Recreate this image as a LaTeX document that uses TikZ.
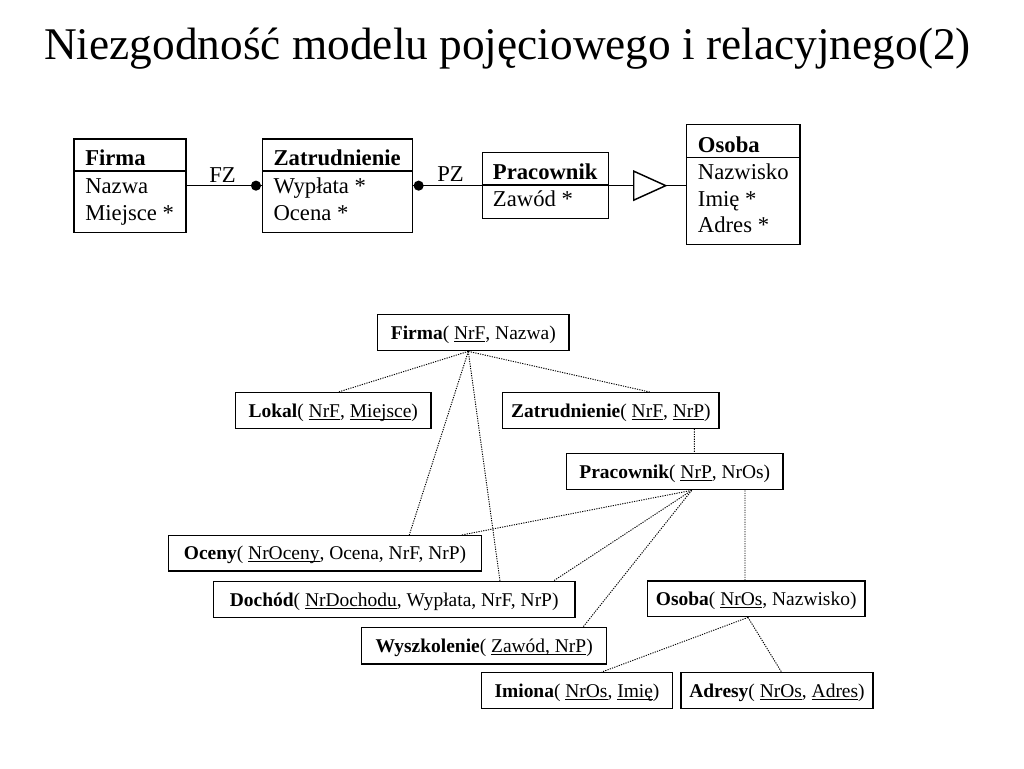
\documentclass[tikz,border=0pt]{standalone}
\usepackage{fontspec}
\setmainfont{Liberation Serif}
\usetikzlibrary{calc}
\newcommand{\undl}[1]{\underline{\smash{#1}}}
\begin{document}
\begin{tikzpicture}[x=0.75pt,y=-0.75pt,
  umlbox/.style={draw, line width=1.1pt, inner sep=0pt},
  umltext/.style={anchor=base west, inner sep=0pt, font=\fontsize{17}{20}\selectfont},
  rel/.style={draw, line width=1pt, inner sep=0pt, text height=12pt, text depth=2.25pt, font=\fontsize{14.6}{17}\selectfont},
  conn/.style={line width=0.7pt, dash pattern=on 0.9pt off 0.9pt},
  solidline/.style={line width=1.1pt},
  dotfill/.style={fill=black}]
\useasboundingbox (0,0) rectangle (1024,768);

\node[anchor=base west, inner sep=0pt, font=\fontsize{34}{40}\selectfont] (title) at (44,59.5)
  {Niezgodność modelu pojęciowego i relacyjnego(2)};

% ---------- conceptual model ----------
\node[umlbox, minimum width=112*0.75pt, minimum height=93.3*0.75pt] (firmaE) at (130,185.65) {};
\node[umlbox, minimum width=149.6*0.75pt, minimum height=93.3*0.75pt] (zatE) at (337.5,185.65) {};
\node[umlbox, minimum width=126.4*0.75pt, minimum height=66*0.75pt] (pracE) at (545.5,185.65) {};
\node[umlbox, minimum width=113.3*0.75pt, minimum height=119.8*0.75pt] (osE) at (743.35,184.6) {};

\draw[solidline] ($(firmaE.north west)+(0,32.7)$) -- ($(firmaE.north east)+(0,32.7)$);
\draw[solidline] ($(zatE.north west)+(0,32.7)$) -- ($(zatE.north east)+(0,32.7)$);
\draw[solidline] ($(pracE.north west)+(0,33)$) -- ($(pracE.north east)+(0,33)$);
\draw[solidline] ($(osE.north west)+(0,33.6)$) -- ($(osE.north east)+(0,33.6)$);

\node[umltext] (t1) at (85,165.7) {\textbf{Firma}};
\node[umltext] (t2) at (85,193) {Nazwa};
\node[umltext] (t3) at (85,220.7) {Miejsce *};

\node[umltext] (t4) at (273.3,165.7) {\textbf{Zatrudnienie}};
\node[umltext] (t5) at (273.3,193) {Wypłata *};
\node[umltext] (t6) at (273.3,220.7) {Ocena *};

\node[umltext] (t7) at (492.7,179) {\textbf{Pracownik}};
\node[umltext] (t8) at (492.7,206) {Zawód *};

\node[umltext] (t9) at (697.7,152.3) {\textbf{Osoba}};
\node[umltext] (t10) at (697.7,179.3) {Nazwisko};
\node[umltext] (t11) at (697.7,206) {Imię *};
\node[umltext] (t12) at (697.7,232.7) {Adres *};

\draw[solidline] (firmaE.east) -- (zatE.west);
\fill[dotfill] ($(zatE.west)+(-6,0)$) circle[radius=3.8pt];
\node[umltext, anchor=base] (fz) at (222.5,182.7) {FZ};

\draw[solidline] (zatE.east) -- (pracE.west);
\fill[dotfill] ($(zatE.east)+(5.6,0)$) circle[radius=3.8pt];
\node[umltext, anchor=base] (pz) at (450.5,181.7) {PZ};

\coordinate (tri) at ($(pracE.east)+(24.3,0)$);
\draw[solidline] (pracE.east) -- (tri);
\draw[solidline, line join=miter] ($(tri)+(0,-14.5)$) -- ($(tri)+(32,0)$) coordinate (tip) -- ($(tri)+(0,14.5)$) -- cycle;
\draw[solidline] (tip) -- (tip -| osE.west);

% ---------- relational model ----------
\node[rel, minimum width=191.5*0.75pt, minimum height=36*0.75pt] (fr) at (473.3,332.7)
  {\textbf{Firma}( \undl{NrF}, Nazwa)};
\node[rel, minimum width=195.3*0.75pt, minimum height=35.6*0.75pt] (lok) at (333.3,410.5)
  {\textbf{Lokal}( \undl{NrF}, \undl{Miejsce})};
\node[rel, minimum width=216.3*0.75pt, minimum height=35.6*0.75pt] (zat) at (610.9,410.5)
  {\textbf{Zatrudnienie}( \undl{NrF}, \undl{NrP})};
\node[rel, minimum width=216.3*0.75pt, minimum height=36.4*0.75pt] (prac) at (674.8,471.5)
  {\textbf{Pracownik}( \undl{NrP}, NrOs)};
\node[rel, minimum width=313.4*0.75pt, minimum height=35.3*0.75pt] (oc) at (325,553.3)
  {\textbf{Oceny}( \undl{NrOceny}, Ocena, NrF, NrP)};
\node[rel, minimum width=361.7*0.75pt, minimum height=36*0.75pt] (doch) at (394.2,599.7)
  {\textbf{Dochód}( \undl{NrDochodu}, Wypłata, NrF, NrP)};
\node[rel, minimum width=245*0.75pt, minimum height=36.7*0.75pt] (wys) at (484.2,645.7)
  {\textbf{Wyszkolenie}( \undl{Zawód, NrP})};
\node[rel, minimum width=217.7*0.75pt, minimum height=35.7*0.75pt] (os) at (756.2,598.9)
  {\textbf{Osoba}( \undl{NrOs}, Nazwisko)};
\node[rel, minimum width=190.6*0.75pt, minimum height=35.6*0.75pt] (im) at (577,690.5)
  {\textbf{Imiona}( \undl{NrOs}, \undl{Imię})};
\node[rel, minimum width=192*0.75pt, minimum height=35.6*0.75pt] (ad) at (777,690.5)
  {\textbf{Adresy}( \undl{NrOs}, \undl{Adres})};

\coordinate (frB) at ($(fr.south)+(-5,0)$);
\draw[conn] (frB) -- ($(lok.north)+(5,0)$);
\draw[conn] (frB) -- ($(zat.north)+(39,0)$);
\draw[conn] (frB) -- ($(oc.north)+(84.3,0)$);
\draw[conn] (frB) -- ($(doch.north)+(105.8,0)$);

\draw[conn] ($(zat.south)+(83.4,0)$) -- ($(prac.north)+(19.5,0)$);

\coordinate (pracB) at ($(prac.south)+(16.9,0)$);
\draw[conn] (pracB) -- ($(oc.north)+(136.7,0)$);
\draw[conn] (pracB) -- ($(doch.north)+(159.1,0)$);
\draw[conn] (pracB) -- ($(wys.north)+(99.1,0)$);
\draw[conn] ($(prac.south)+(70.2,0)$) -- ($(os.north)+(-11.2,0)$);

\coordinate (osB) at ($(os.south)+(-8.2,0)$);
\draw[conn] (osB) -- ($(im.north)+(24.7,0)$);
\draw[conn] (osB) -- ($(ad.north)+(4.5,0)$);
\end{tikzpicture}
\end{document}
